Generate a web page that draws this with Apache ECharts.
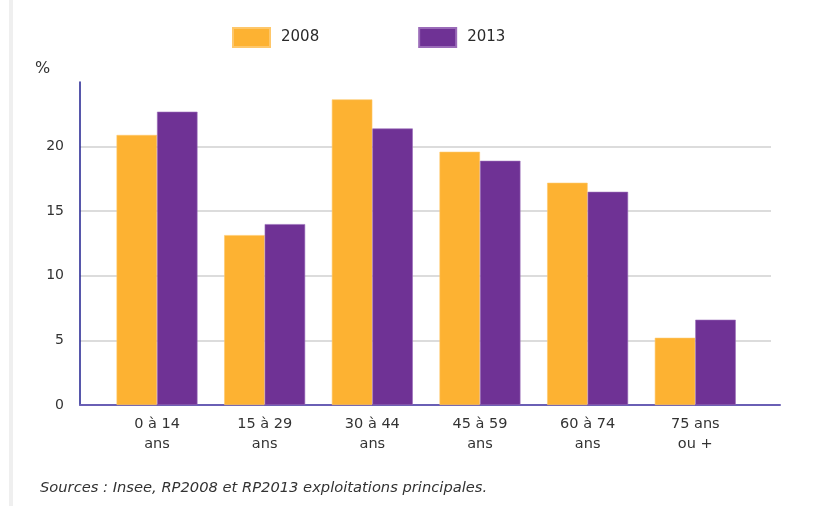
<!DOCTYPE html>
<html>
<head>
<meta charset="utf-8">
<script src="https://cdn.jsdelivr.net/npm/echarts@6/dist/echarts.min.js"></script>
<style>html,body{margin:0;padding:0;background:#fff;}#c{width:815px;height:506px;}</style>
</head>
<body>
<div id="c"></div>
<script>
const categories = ['0 à 14\nans', '15 à 29\nans', '30 à 44\nans', '45 à 59\nans', '60 à 74\nans', '75 ans\nou +'];
const values2008 = [20.9, 13.15, 23.65, 19.6, 17.2, 5.2];
const values2013 = [22.7, 14.0, 21.4, 18.9, 16.5, 6.6];
const seriesNames = ['2008', '2013'];

const FONT = '"DejaVu Sans", sans-serif';
const chart = echarts.init(document.getElementById('c'), null, {renderer: 'canvas'});
chart.setOption({
  animation: false,
  backgroundColor: '#fff',
  textStyle: {fontFamily: FONT},
  legend: {
    data: seriesNames,
    left: 232, top: 27, padding: 0,
    itemWidth: 37, itemHeight: 19, itemGap: 99,
    icon: 'rect',
    textStyle: {fontSize: 15, color: '#2a2a2a', fontFamily: FONT, padding: [0, 0, 0, 6]}
  },
  grid: [
    {left: 80, right: 44, top: 82, bottom: 101},
    {left: 103.2, right: 65.9, top: 82, bottom: 101},
    {left: 80, right: 35, top: 82, bottom: 101}
  ],
  xAxis: [
    {gridIndex: 0, type: 'value', show: false, min: 0, max: 1},
    {gridIndex: 1, type: 'category', data: categories,
      axisLine: {show: false}, axisTick: {show: false},
      axisLabel: {color: '#333', fontSize: 14.5, fontFamily: FONT, lineHeight: 20, margin: 9}},
    {gridIndex: 2, type: 'value', min: 0, max: 1,
      axisLine: {show: true, lineStyle: {color: '#6a5fb5', width: 2}},
      axisTick: {show: false}, axisLabel: {show: false}, splitLine: {show: false}}
  ],
  yAxis: [
    {gridIndex: 0, type: 'value', min: 0, max: 25, interval: 5,
      axisLine: {show: true, lineStyle: {color: '#1f1f8f', width: 1.5}},
      axisTick: {show: false},
      axisLabel: {color: '#333', fontSize: 14, fontFamily: FONT, margin: 16, showMaxLabel: false},
      splitLine: {show: true, showMaxLine: false, showMinLine: false, lineStyle: {color: '#dcdcdc', width: 2}}},
    {gridIndex: 1, type: 'value', min: 0, max: 25, interval: 5, show: false, splitLine: {show: false}},
    {gridIndex: 2, type: 'value', min: 0, max: 25, show: false, splitLine: {show: false}}
  ],
  series: [
    {name: seriesNames[0], type: 'bar', xAxisIndex: 1, yAxisIndex: 1, data: values2008,
      barGap: '0%', barCategoryGap: '24.8%',
      itemStyle: {color: '#fdb232', borderColor: '#fec76a', borderWidth: 0.6}},
    {name: seriesNames[1], type: 'bar', xAxisIndex: 1, yAxisIndex: 1, data: values2013,
      barGap: '0%', barCategoryGap: '24.8%',
      itemStyle: {color: '#6f3295', borderColor: '#9a6bb8', borderWidth: 0.6}}
  ],
  graphic: [
    {type: 'rect', left: 9, top: 0, shape: {width: 4, height: 506}, style: {fill: '#efefef'}, silent: true},
    {type: 'text', left: 35, top: 61, style: {text: '%', fill: '#333', font: '16px "DejaVu Sans", sans-serif'}},
    {type: 'text', left: 40, top: 481, style: {text: 'Sources : Insee, RP2008 et RP2013 exploitations principales.', fill: '#333', font: 'italic 14.7px "DejaVu Sans", sans-serif'}}
  ]
});
</script>
</body>
</html>
